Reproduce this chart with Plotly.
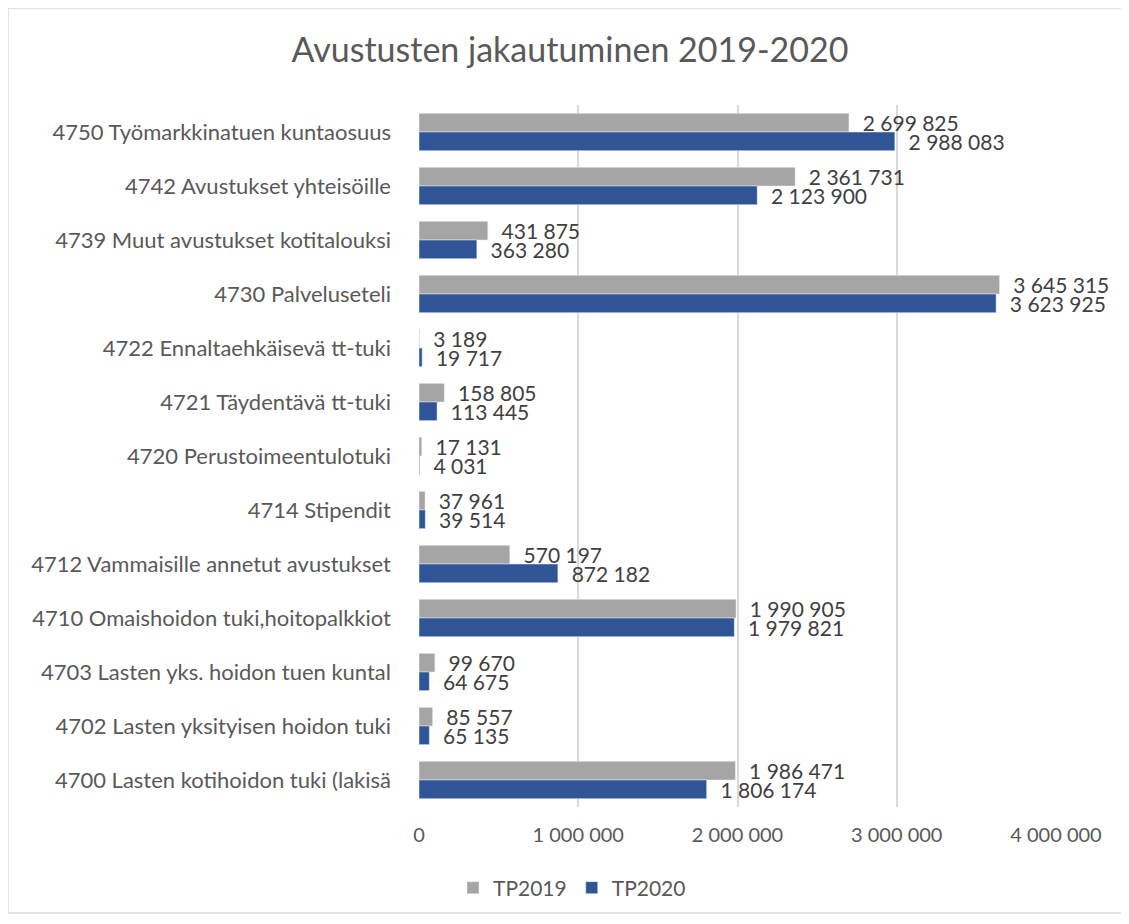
import plotly.graph_objects as go

categories = [
    "4750 Työmarkkinatuen kuntaosuus",
    "4742 Avustukset yhteisöille",
    "4739 Muut avustukset kotitalouksi",
    "4730 Palveluseteli",
    "4722 Ennaltaehkäisevä tt-tuki",
    "4721 Täydentävä tt-tuki",
    "4720 Perustoimeentulotuki",
    "4714 Stipendit",
    "4712 Vammaisille annetut avustukset",
    "4710 Omaishoidon tuki,hoitopalkkiot",
    "4703 Lasten yks. hoidon tuen kuntal",
    "4702 Lasten yksityisen hoidon tuki",
    "4700 Lasten kotihoidon tuki (lakisä",
]
tp2019 = [2699825, 2361731, 431875, 3645315, 3189, 158805, 17131, 37961,
          570197, 1990905, 99670, 85557, 1986471]
tp2020 = [2988083, 2123900, 363280, 3623925, 19717, 113445, 4031, 39514,
          872182, 1979821, 64675, 65135, 1806174]
x_ticks = [0, 1000000, 2000000, 3000000, 4000000]

FONT = "Lato, 'Open Sans', sans-serif"
W, H = 1129, 924
OFF = 8  # page body margin in the html
L, R, T, B = 419 - OFF, 73 + OFF, 105 - OFF, 117 + OFF
pw, ph = W - L - R, H - T - B

fig = go.Figure()
for name, vals, color in [("TP2019", tp2019, "#A5A5A5"), ("TP2020", tp2020, "#2F5597")]:
    fig.add_trace(go.Bar(
        y=categories, x=vals, name=name, orientation="h",
        marker=dict(color=color),
        texttemplate="\u00a0\u00a0%{x:,.0f}", textposition="outside",
        textfont=dict(size=21, color="#404040", family=FONT),
        constraintext="none",
        cliponaxis=False,
    ))

# chart border like the Excel chart area
fig.add_shape(type="rect", xref="paper", yref="paper",
              x0=-L / pw, x1=(W + 10 - L) / pw,
              y0=-(913 - OFF - (H - B)) / ph, y1=1 + T / ph,
              line=dict(color="#D9D9D9", width=1.5), layer="below")

fig.update_layout(
    width=W, height=H,
    margin=dict(l=L, r=R, t=T, b=B, autoexpand=False),
    separators=", ",
    plot_bgcolor="white", paper_bgcolor="white",
    font=dict(family=FONT, color="#595959"),
    title=dict(text="Avustusten jakautuminen 2019-2020",
               x=(570 - OFF) / W, xanchor="center", y=1 - (50 - OFF) / H, yanchor="middle",
               font=dict(size=34, color="#595959", family=FONT)),
    barmode="group", bargap=0.31, bargroupgap=0,
    xaxis=dict(range=[0, 4000000], tickvals=x_ticks, tickformat=",.0f",
               showgrid=True, gridcolor="#D9D9D9", gridwidth=1.5,
               zeroline=False, showline=False, automargin=False,
               tickfont=dict(size=20, color="#595959"), ticks="",
               ticklabelstandoff=14),
    yaxis=dict(autorange="reversed", showgrid=False, showline=False,
               automargin=False,
               tickfont=dict(size=22, color="#595959"), ticks="",
               ticklabelstandoff=27),
    legend=dict(orientation="h", x=(572 - OFF - L) / pw, xanchor="center",
                y=-(888 - OFF - (H - B)) / ph, yanchor="middle",
                font=dict(size=21, color="#595959"),
                itemwidth=30, traceorder="normal"),
    showlegend=True,
)

fig.write_html("out.html")
